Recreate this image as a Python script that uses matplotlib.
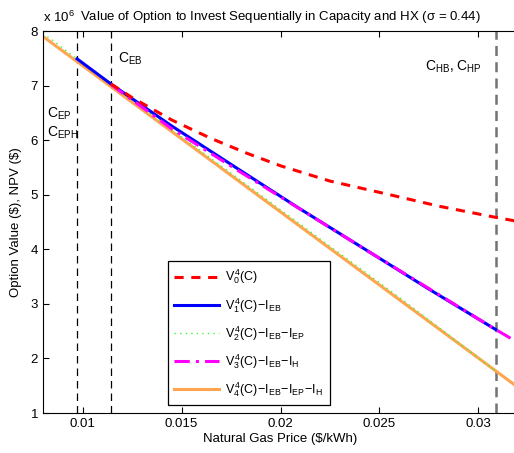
import matplotlib
matplotlib.use('Agg')
import matplotlib.pyplot as plt

plt.rcParams['font.family'] = ['Liberation Sans', 'DejaVu Sans']
plt.rcParams['mathtext.fontset'] = 'custom'
plt.rcParams['mathtext.rm'] = 'Liberation Sans'
plt.rcParams['mathtext.it'] = 'Liberation Sans'
plt.rcParams['font.size'] = 9

# natural gas price ($/kWh) and values (x 1e6 $)
c_v0 = [0.01143, 0.0125, 0.0145, 0.0165, 0.0183, 0.0200, 0.0225, 0.0254, 0.0280, 0.0308, 0.0320]
v0 = [7.03, 6.78, 6.37, 6.03, 5.76, 5.53, 5.25, 5.01, 4.79, 4.59, 4.51]

c_v1 = [0.00972, 0.01143, 0.0145, 0.01795, 0.0209, 0.02436, 0.0275, 0.03087]
v1 = [7.49, 7.03, 6.26, 5.45, 4.76, 3.98, 3.27, 2.53]

c_v2 = [0.0080, 0.00972, 0.01143, 0.0150, 0.0180, 0.0220, 0.0260, 0.0308]
v2 = [7.96, 7.49, 7.04, 6.06, 5.26, 4.19, 3.12, 1.79]

c_v3 = [0.01143, 0.0145, 0.0180, 0.0244, 0.03087, 0.0320]
v3 = [7.02, 6.21, 5.41, 3.97, 2.53, 2.29]

c_v4 = [0.0080, 0.0320]
v4 = [7.90, 1.47]

c_ep = 0.00972
c_eb = 0.01143
c_hb = 0.03087

fig = plt.figure(figsize=(5.14, 4.53), dpi=100)
ax = fig.add_axes([43 / 514, 40 / 453, 475 / 514, 382 / 453])

ax.axvline(c_ep, color='k', ls=(0, (6, 4)), lw=0.9)
ax.axvline(c_eb, color='k', ls=(0, (6, 4)), lw=0.9)
ax.axvline(c_hb, color='0.45', ls=(0, (4, 2.5)), lw=1.8)

ax.plot(c_v4, v4, color='#ffa54f', lw=2.2, label=r'$V^4_4(C)\!-\!I_{EB}\!-\!I_{EP}\!-\!I_{H}$')
ax.plot(c_v2, v2, color='#33ff33', lw=1.0, ls=(0, (1, 3)), label=r'$V^4_2(C)\!-\!I_{EB}\!-\!I_{EP}$')
ax.plot(c_v1, v1, color='#0000ff', lw=2.2, label=r'$V^4_1(C)\!-\!I_{EB}$')
ax.plot(c_v3, v3, color='#ff00ff', lw=2.2, ls=(0, (5, 2, 1, 2)), label=r'$V^4_3(C)\!-\!I_{EB}\!-\!I_{H}$')
ax.plot(c_v0, v0, color='#ff0000', lw=2.2, ls=(0, (3, 2.5)), label=r'$V^4_0(C)$')

h, l = ax.get_legend_handles_labels()
order = [4, 2, 1, 3, 0]
leg = ax.legend([h[i] for i in order], [l[i] for i in order],
                loc='lower left', bbox_to_anchor=(0.263, 0.021),
                fancybox=False, edgecolor='k', framealpha=1,
                handlelength=3.6, handletextpad=0.5, labelspacing=0.75,
                borderpad=0.5, borderaxespad=0, fontsize=9)
leg.get_frame().set_linewidth(0.9)
leg.set_zorder(1)

ax.text(0.0118, 7.42, r'C$_{\mathrm{EB}}$', fontsize=10)
ax.text(0.0082, 6.42, r'C$_{\mathrm{EP}}$', fontsize=10)
ax.text(0.0082, 6.07, r'C$_{\mathrm{EPH}}$', fontsize=10)
ax.text(0.0273, 7.28, r'C$_{\mathrm{HB}}$, C$_{\mathrm{HP}}$', fontsize=10)

ax.set_xlim(0.008, 0.032)
ax.set_ylim(1, 8)
ax.set_xticks([0.01, 0.015, 0.02, 0.025, 0.03])
ax.set_xticklabels(['0.01', '0.015', '0.02', '0.025', '0.03'])
ax.set_yticks([1, 2, 3, 4, 5, 6, 7, 8])
ax.tick_params(direction='in', top=True, right=False, length=4, labelsize=9.5)
ax.spines['right'].set_visible(False)

ax.set_xlabel(r'Natural Gas Price (\$/kWh)', fontsize=9.5, labelpad=2)
ax.set_ylabel(r'Option Value (\$), NPV (\$)', fontsize=9.5, labelpad=6)
ax.set_title(r'Value of Option to Invest Sequentially in Capacity and HX ($\sigma$ = 0.44)',
             fontsize=9.5, pad=8)
fig.text(43 / 514, 1 - 17 / 453, r'x 10$^6$', fontsize=9.5, va='center')

fig.savefig('out.png', dpi=100)
